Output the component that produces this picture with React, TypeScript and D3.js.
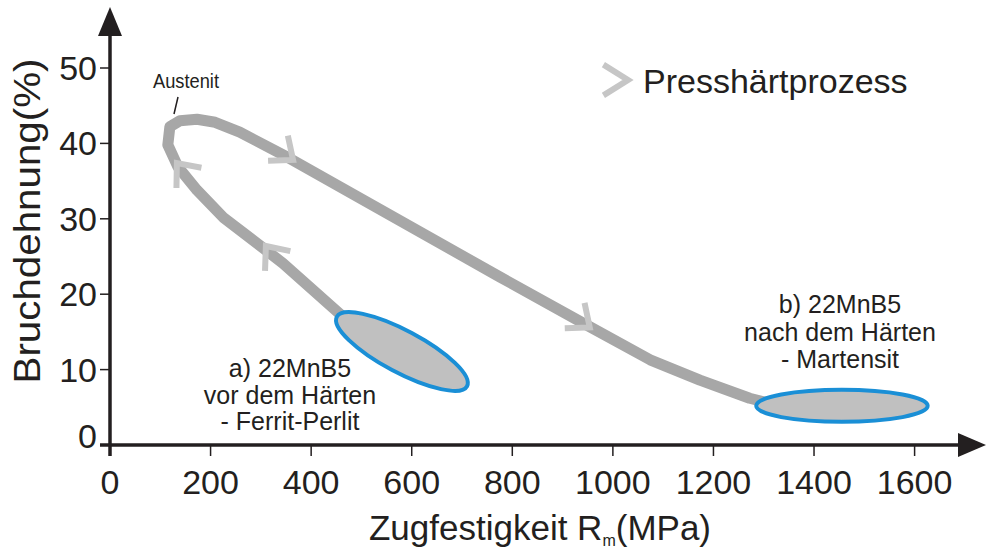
import React from 'react'
import * as d3 from 'd3'

const width = 986
const height = 549

// x axis: Zugfestigkeit (MPa), y axis: Bruchdehnung (%)
const xTicks = [0, 200, 400, 600, 800, 1000, 1200, 1400, 1600]
const yTicks = [0, 10, 20, 30, 40, 50]

// Presshärtprozess path: from a) up to Austenit, then down to b)
const pathStrength = [497, 467, 344, 225, 173, 135, 115, 119, 139, 173, 209, 258, 352, 775, 940, 1074, 1173, 1272, 1332]
const pathElongation = [15.9, 16.8, 24.1, 30.2, 33.8, 36.9, 39.8, 42.2, 43.0, 43.2, 42.8, 41.5, 38.2, 22.3, 16.2, 11.3, 8.6, 6.2, 5.2]

// direction markers on the path (vertex + heading in degrees)
const arrowStrength = [364, 954, 310, 133]
const arrowElongation = [37.8, 15.6, 26.4, 37.4]
const arrowHeading = [38, 38, 232, 231]

// material regions, major axis ends
const regionNames = ['a', 'b']
const regionStrength = [[451, 710], [1285, 1626]]
const regionElongation = [[17.0, 7.8], [5.2, 5.2]]
const regionMinor = [21, 16]

const labelA = ['a) 22MnB5', 'vor dem Härten', '- Ferrit-Perlit']
const labelB = ['b) 22MnB5', 'nach dem Härten', '- Martensit']

const font = '"Liberation Sans", Arial, sans-serif'
const ink = '#231f20'

const chevron = (x: number, y: number, heading: number, len: number, half: number) => {
  const r = (heading + 180) * Math.PI / 180
  const h = half * Math.PI / 180
  const p1 = [x + len * Math.cos(r - h), y + len * Math.sin(r - h)]
  const p2 = [x + len * Math.cos(r + h), y + len * Math.sin(r + h)]
  return `M${p1[0]},${p1[1]}L${x},${y}L${p2[0]},${p2[1]}`
}

const App = () => {
  const x = d3.scaleLinear().domain([0, 1600]).range([110, 914.6])
  const y = d3.scaleLinear().domain([0, 50]).range([445, 68])

  const line = d3.line<number>()
    .x((_, i) => x(pathStrength[i]))
    .y((_, i) => y(pathElongation[i]))
    .curve(d3.curveLinear)

  const regions = regionNames.map((n, i) => {
    const x0 = x(regionStrength[i][0]), x1 = x(regionStrength[i][1])
    const y0 = y(regionElongation[i][0]), y1 = y(regionElongation[i][1])
    return {
      n,
      cx: (x0 + x1) / 2,
      cy: (y0 + y1) / 2,
      rx: Math.hypot(x1 - x0, y1 - y0) / 2,
      ry: regionMinor[i],
      angle: Math.atan2(y1 - y0, x1 - x0) * 180 / Math.PI
    }
  })

  return (
    <svg width={width} height={height} style={{ display: 'block', position: 'absolute', left: 0, top: 0 }} fontFamily={font}>
      <rect width={width} height={height} fill="#fff" />

      <path d={line(pathStrength) || ''} fill="none" stroke="#a7a7a7" strokeWidth={11} strokeLinejoin="round" />

      {arrowStrength.map((s, i) =>
        <path key={i} d={chevron(x(s), y(arrowElongation[i]), arrowHeading[i], 25, 40)}
          fill="none" stroke="#c6c6c6" strokeWidth={6} />
      )}

      {regions.map(r =>
        <ellipse key={r.n} cx={r.cx} cy={r.cy} rx={r.rx} ry={r.ry}
          transform={`rotate(${r.angle} ${r.cx} ${r.cy})`}
          fill="#c0c0c0" stroke="#1a8fd6" strokeWidth={4} />
      )}

      {/* axes */}
      <line x1={110} x2={110} y1={456} y2={30} stroke={ink} strokeWidth={3.5} />
      <path d="M110,7L98,36L122,36Z" fill={ink} />
      <line x1={100} x2={965} y1={445} y2={445} stroke={ink} strokeWidth={3.5} />
      <path d="M986,445L958,433L958,457Z" fill={ink} />

      {xTicks.filter(t => t > 0).map(t =>
        <line key={t} x1={x(t)} x2={x(t)} y1={445} y2={456} stroke={ink} strokeWidth={1.5} />
      )}
      {xTicks.map(t =>
        <text key={t} x={x(t)} y={494} textAnchor="middle" fontSize={34} fill={ink}>{t}</text>
      )}
      {yTicks.filter(t => t > 0).map(t =>
        <line key={t} x1={100} x2={110} y1={y(t)} y2={y(t)} stroke={ink} strokeWidth={1.5} />
      )}
      {yTicks.map(t =>
        <text key={t} x={97} y={Math.min(y(t) + 12, 448)} textAnchor="end" fontSize={34} fill={ink}>{t}</text>
      )}

      <text transform="translate(40,221) rotate(-90)" textAnchor="middle" fontSize={37} fill={ink}
        textLength={325} lengthAdjust="spacingAndGlyphs">Bruchdehnung(%)</text>
      <text x={540} y={540} textAnchor="middle" fontSize={35} fill={ink}>
        Zugfestigkeit R<tspan fontSize={16} dy={6}>m</tspan><tspan dy={-6}>(MPa)</tspan>
      </text>

      {/* legend */}
      <path d={chevron(628, 80, 0, 29, 32)} fill="none" stroke="#c6c6c6" strokeWidth={6} />
      <text x={643} y={93} fontSize={34} fill={ink}>Presshärtprozess</text>

      {/* annotations */}
      <text x={186} y={88} textAnchor="middle" fontSize={21} fill={ink}
        textLength={66} lengthAdjust="spacingAndGlyphs">Austenit</text>
      <line x1={178} x2={174} y1={97} y2={114} stroke={ink} strokeWidth={1.5} />

      {labelA.map((t, i) =>
        <text key={t} x={290} y={377 + i * 26.5} textAnchor="middle" fontSize={25} fill={ink}>{t}</text>
      )}
      {labelB.map((t, i) =>
        <text key={t} x={840} y={313 + i * 27.5} textAnchor="middle" fontSize={25} fill={ink}>{t}</text>
      )}
    </svg>
  )
}

export default App
